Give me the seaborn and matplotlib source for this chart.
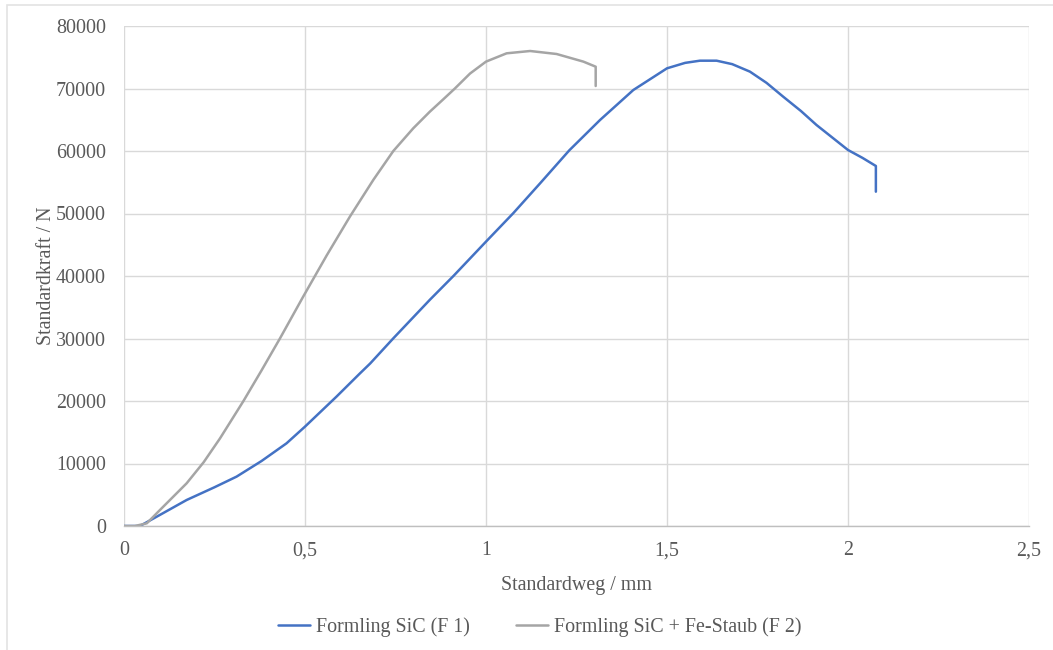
import matplotlib
matplotlib.use("Agg")
import matplotlib.pyplot as plt
import matplotlib.ticker as mticker
from matplotlib.patches import Rectangle
import pandas as pd
import seaborn as sns

# Force-displacement curves of the two compacts
weg_f1 = [0.0, 0.044, 0.1, 0.173, 0.25, 0.311, 0.38, 0.449, 0.5, 0.587, 0.652, 0.68,
          0.744, 0.845, 0.91, 1.0, 1.075, 1.149, 1.23, 1.315, 1.407, 1.5, 1.55, 1.591,
          1.637, 1.68, 1.729, 1.775, 1.821, 1.87, 1.913, 1.96, 2.0, 2.04, 2.077, 2.077]
kraft_f1 = [0, 0, 1800, 4160, 6200, 7900, 10400, 13230, 15900, 20700, 24430, 26000,
            30030, 36200, 40000, 45500, 50030, 54800, 60100, 64960, 69760, 73230, 74100,
            74450, 74450, 73900, 72700, 70900, 68690, 66400, 64160, 62000, 60160, 58900,
            57600, 53490]

weg_f2 = [0.0, 0.03, 0.063, 0.1, 0.173, 0.22, 0.265, 0.33, 0.38, 0.431, 0.495, 0.56,
          0.624, 0.689, 0.744, 0.799, 0.845, 0.882, 0.914, 0.956, 1.0, 1.057, 1.122,
          1.195, 1.269, 1.303, 1.303]
kraft_f2 = [0, 0, 430, 2600, 6830, 10200, 14000, 20000, 24900, 30030, 36700, 43300,
            49500, 55400, 60000, 63630, 66300, 68270, 70000, 72400, 74300, 75630, 76000,
            75520, 74300, 73490, 70400]

serie_f1 = "Formling SiC (F 1)"
serie_f2 = "Formling SiC + Fe-Staub (F 2)"

x_ticks = [0, 0.5, 1, 1.5, 2, 2.5]
y_ticks = [0, 10000, 20000, 30000, 40000, 50000, 60000, 70000, 80000]

df = pd.DataFrame({
    "Standardweg": weg_f1 + weg_f2,
    "Standardkraft": kraft_f1 + kraft_f2,
    "Serie": [serie_f1] * len(weg_f1) + [serie_f2] * len(weg_f2),
})

sns.set_theme(style="white")
plt.rcParams["font.family"] = ["Liberation Serif", "DejaVu Serif"]

fig = plt.figure(figsize=(10.53, 6.5), dpi=100)
ax = fig.add_axes([124 / 1053, 1 - 526 / 650, 905 / 1053, 500 / 650])

sns.lineplot(data=df, x="Standardweg", y="Standardkraft", hue="Serie",
             palette={serie_f1: "#4472C4", serie_f2: "#A5A5A5"},
             sort=False, estimator=None, units="Serie", linewidth=1.8, ax=ax,
             legend=True)
for line in ax.get_lines():
    line.set_solid_joinstyle("round")

ax.set_xlim(0, 2.5)
ax.set_ylim(0, 80000)
ax.set_xticks(x_ticks)
ax.set_yticks(y_ticks)
ax.xaxis.set_major_formatter(mticker.FuncFormatter(
    lambda v, p: ("%g" % v).replace(".", ",")))
ax.yaxis.set_major_formatter(mticker.FuncFormatter(lambda v, p: "%d" % v))

ax.grid(True, color="#D9D9D9", linewidth=1.0)
ax.set_axisbelow(True)
for side in ["top", "right", "left"]:
    ax.spines[side].set_visible(False)
ax.spines["bottom"].set_color("#BFBFBF")
ax.spines["bottom"].set_linewidth(1.0)
ax.tick_params(axis="x", length=0, labelsize=14.4, colors="#595959", pad=11)
ax.tick_params(axis="y", length=0, labelsize=14.4, colors="#595959", pad=13)

ax.set_xlabel("Standardweg / mm", fontsize=14.4, color="#595959", labelpad=11)
ax.set_ylabel("Standardkraft / N", fontsize=14.4, color="#595959", labelpad=0)

handles, labels = ax.get_legend_handles_labels()
ax.legend(handles, labels, loc="center", bbox_to_anchor=(540 / 1053, 1 - 627 / 650),
          bbox_transform=fig.transFigure, ncol=2, frameon=False, fontsize=14.4,
          handlelength=1.6, handletextpad=0.3, columnspacing=2.3,
          labelcolor="#595959")

# Chart area frame
fig.patches.append(Rectangle((7 / 1053, -0.02), 1.1, 1 - 5 / 650 + 0.02,
                             transform=fig.transFigure, fill=False,
                             edgecolor="#E3E3E3", linewidth=1.2))

fig.savefig("out.png", dpi=100)
